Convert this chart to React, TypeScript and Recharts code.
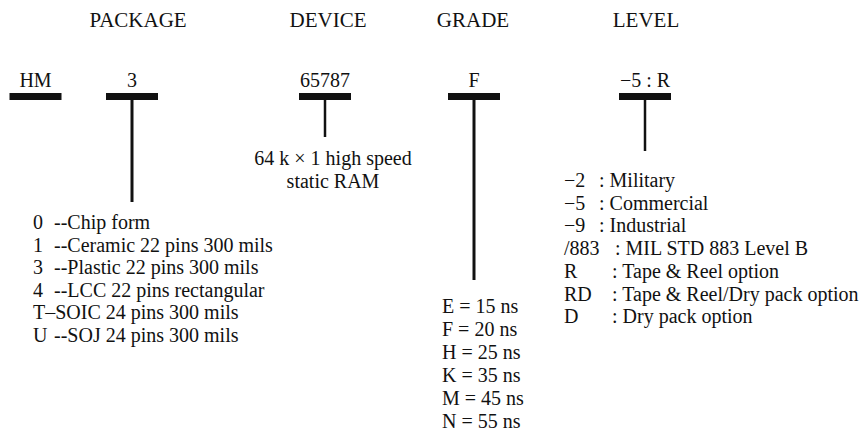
import { ScatterChart, Scatter, XAxis, YAxis, ReferenceArea, ReferenceLine } from "recharts";

// part number fields
const fieldTitles = ["", "PACKAGE", "DEVICE", "GRADE", "LEVEL"];
const fieldCodes = ["HM", "3", "65787", "F", "\u22125 : R"];

// package options
const packageCodes = ["0", "1", "3", "4", "T", "U"];
const packageSeparators = ["--", "--", "--", "--", "\u2013", "--"];
const packageDescriptions = [
  "Chip form",
  "Ceramic 22 pins 300 mils",
  "Plastic 22 pins 300 mils",
  "LCC 22 pins rectangular",
  "SOIC 24 pins 300 mils",
  "SOJ 24 pins 300 mils",
];

const deviceDescription = ["64 k \u00d7 1 high speed", "static RAM"];

// speed grades
const gradeCodes = ["E", "F", "H", "K", "M", "N"];
const gradeSpeeds = [15, 20, 25, 35, 45, 55];

// levels
const levelCodes = ["\u22122", "\u22125", "\u22129", "/883", "R", "RD", "D"];
const levelDescriptions = [
  "Military",
  "Commercial",
  "Industrial",
  "MIL STD 883 Level B",
  "Tape & Reel option",
  "Tape & Reel/Dry pack option",
  "Dry pack option",
];

// layout (px in a 864 x 431 frame)
const W = 864;
const H = 431;
const colCenters = [35.5, 132, 325, 474, 645];
const titleCenters = [0, 138, 328, 473, 646];
const barHalf = 26;
const barTop = 93;
const barBottom = 100;
const titleY = 27;
const codeY = 87;
const stemEnds = [0, 202, 137, 280, 151];
const packageX = 33;
const packageTabX = 54;
const packageY = 229;
const packageGap = 22.5;
const deviceY = 165;
const deviceGap = 23;
const gradeX = 442;
const gradeY = 313;
const gradeGap = 23;
const levelX = 564;
const levelTabs = [599, 599, 599, 615, 612, 612, 612];
const levelY = 187;
const levelGap = 22.7;

const font = "'Liberation Serif', 'Times New Roman', serif";
const ink = "#111";

type Pt = { x: number; y: number; lines: string[]; kind: string; idx: number };

const titlePts: Pt[] = fieldTitles.map((t, i) => ({ x: titleCenters[i], y: titleY, lines: [t], kind: "title", idx: i }));
const codePts: Pt[] = fieldCodes.map((t, i) => ({ x: colCenters[i], y: codeY, lines: [t], kind: "mid", idx: i }));
const devicePts: Pt[] = deviceDescription.map((t, i) => ({
  x: colCenters[2] + 8,
  y: deviceY + i * deviceGap,
  lines: [t],
  kind: "mid",
  idx: i,
}));
const packagePts: Pt[] = packageCodes.map((c, i) => ({
  x: packageX,
  y: packageY + i * packageGap,
  lines: [c, packageSeparators[i], packageDescriptions[i]],
  kind: "package",
  idx: i,
}));
const gradePts: Pt[] = gradeCodes.map((c, i) => ({
  x: gradeX,
  y: gradeY + i * gradeGap,
  lines: [`${c} = ${gradeSpeeds[i]} ns`],
  kind: "left",
  idx: i,
}));
const levelPts: Pt[] = levelCodes.map((c, i) => ({
  x: levelX,
  y: levelY + i * levelGap,
  lines: [c, `: ${levelDescriptions[i]}`],
  kind: "level",
  idx: i,
}));

const Label = (props: any) => {
  const { cx, cy, payload } = props;
  const p: Pt = payload;
  const base = { fontFamily: font, fontSize: 20, fill: ink };
  if (p.kind === "title") {
    return (
      <text x={cx} y={cy} textAnchor="middle" {...base} fontSize={21}>
        {p.lines[0]}
      </text>
    );
  }
  if (p.kind === "mid") {
    return (
      <text x={cx} y={cy} textAnchor="middle" {...base}>
        {p.lines[0]}
      </text>
    );
  }
  if (p.kind === "left") {
    return (
      <text x={cx} y={cy} {...base}>
        {p.lines[0]}
      </text>
    );
  }
  if (p.kind === "package") {
    const [code, sep, desc] = p.lines;
    if (sep === "--") {
      return (
        <text x={cx} y={cy} {...base}>
          {code}
          <tspan x={cx + (packageTabX - packageX)}>{sep}</tspan>
          <tspan>{desc}</tspan>
        </text>
      );
    }
    return (
      <text x={cx} y={cy} {...base}>
        {code + sep + desc}
      </text>
    );
  }
  const [code, desc] = p.lines;
  return (
    <text x={cx} y={cy} {...base}>
      {code}
      <tspan x={cx + (levelTabs[p.idx] - levelX)}>{desc}</tspan>
    </text>
  );
};

export default function App() {
  return (
    <div style={{ position: "absolute", left: 0, top: 0, background: "#fff" }}>
      <ScatterChart width={W} height={H} margin={{ top: 0, right: 0, bottom: 0, left: 0 }}>
        <XAxis type="number" dataKey="x" domain={[0, W]} hide />
        <YAxis type="number" dataKey="y" domain={[0, H]} reversed hide />
        {colCenters.map((c, i) => (
          <ReferenceArea
            key={`bar-${i}`}
            x1={c - barHalf}
            x2={c + barHalf}
            y1={barTop}
            y2={barBottom}
            fill={ink}
            fillOpacity={1}
            stroke="none"
            ifOverflow="visible"
          />
        ))}
        {colCenters.map((c, i) =>
          stemEnds[i] > 0 ? (
            <ReferenceLine
              key={`stem-${i}`}
              segment={[
                { x: c, y: barBottom },
                { x: c, y: stemEnds[i] },
              ]}
              stroke={ink}
              strokeWidth={i === 1 || i === 3 ? 3 : 2.5}
              ifOverflow="visible"
            />
          ) : null
        )}
        <Scatter data={titlePts} shape={Label} isAnimationActive={false} />
        <Scatter data={codePts} shape={Label} isAnimationActive={false} />
        <Scatter data={devicePts} shape={Label} isAnimationActive={false} />
        <Scatter data={packagePts} shape={Label} isAnimationActive={false} />
        <Scatter data={gradePts} shape={Label} isAnimationActive={false} />
        <Scatter data={levelPts} shape={Label} isAnimationActive={false} />
      </ScatterChart>
    </div>
  );
}
